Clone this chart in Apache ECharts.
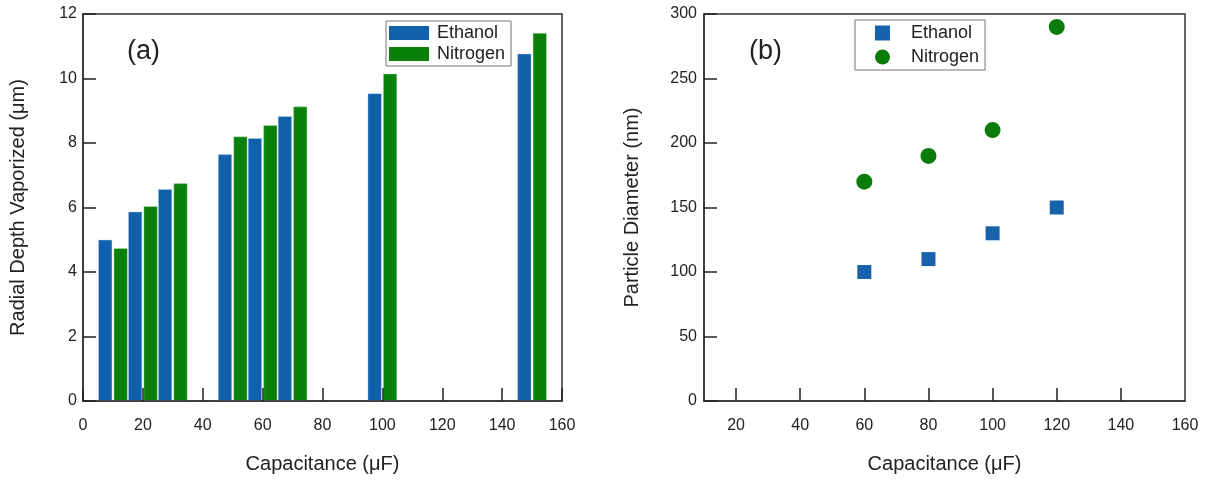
<!DOCTYPE html>
<html>
<head>
<meta charset="utf-8">
<script src="https://cdn.jsdelivr.net/npm/echarts@6/dist/echarts.min.js"></script>
<style>
html,body{margin:0;padding:0;background:#fff;}
#chart{width:1213px;height:481px;}
</style>
</head>
<body>
<div id="chart"></div>
<script>
// ---- Data ----
const capacitanceA = [10, 20, 30, 50, 60, 70, 100, 150];
const ethanolDepth = [5.0, 5.87, 6.57, 7.65, 8.15, 8.83, 9.54, 10.77];
const nitrogenDepth = [4.74, 6.04, 6.75, 8.20, 8.55, 9.13, 10.15, 11.41];

const capacitanceB = [60, 80, 100, 120];
const ethanolDiameter = [100, 110, 130, 150];
const nitrogenDiameter = [170, 190, 210, 290];

const xTickLabelsB = [20, 40, 60, 80, 100, 120, 140, 160];
const xTicksB = [20, 40, 60, 80, 100, 120, 140];

const seriesNames = ['Ethanol', 'Nitrogen'];

// ---- Styling ----
const FONT = '"Liberation Sans", Arial, sans-serif';
const TXT = '#222';
const BLUE = '#1060ab';
const GREEN = '#0a800a';
const BLUE_PT = '#1762ab';
const GREEN_PT = '#097d09';

function pairs(xs, ys) { return xs.map((x, i) => [x, ys[i]]); }

const axisLabel = { color: TXT, fontFamily: FONT, fontSize: 16 };
const nameStyle = { color: TXT, fontFamily: FONT, fontSize: 20 };
const tick = { show: true, inside: true, length: 13, lineStyle: { color: '#222', width: 1.5 } };
const line = { show: true, lineStyle: { color: '#333', width: 1.5 } };

const chart = echarts.init(document.getElementById('chart'), null, { renderer: 'canvas' });

chart.setOption({
  animation: false,
  backgroundColor: '#fff',
  textStyle: { fontFamily: FONT },
  grid: [
    { left: 83, right: 651, top: 14, bottom: 80, show: true, borderColor: '#333', borderWidth: 1.5, backgroundColor: 'transparent' },
    { left: 704, right: 28, top: 14, bottom: 80, show: true, borderColor: '#333', borderWidth: 1.5, backgroundColor: 'transparent' }
  ],
  xAxis: [
    {
      gridIndex: 0, type: 'value', min: 0, max: 160, interval: 20, z: 10,
      name: 'Capacitance (\u03bcF)', nameLocation: 'middle', nameGap: 53, nameTextStyle: nameStyle,
      axisLine: line, axisTick: tick, splitLine: { show: false },
      axisLabel: Object.assign({ margin: 17 }, axisLabel)
    },
    {
      gridIndex: 1, type: 'value', min: 10, max: 160, z: 10,
      name: 'Capacitance (\u03bcF)', nameLocation: 'middle', nameGap: 53, nameTextStyle: nameStyle,
      axisLine: line,
      axisTick: Object.assign({ customValues: xTicksB }, tick),
      splitLine: { show: false },
      axisLabel: Object.assign({ margin: 17, customValues: xTickLabelsB }, axisLabel)
    }
  ],
  yAxis: [
    {
      gridIndex: 0, type: 'value', min: 0, max: 12, interval: 2, z: 10,
      name: 'Radial Depth Vaporized (\u03bcm)', nameLocation: 'middle', nameGap: 55, nameTextStyle: nameStyle,
      axisLine: line, axisTick: tick, splitLine: { show: false },
      axisLabel: Object.assign({ margin: 6 }, axisLabel)
    },
    {
      gridIndex: 1, type: 'value', min: 0, max: 300, interval: 50, z: 10,
      name: 'Particle Diameter (nm)', nameLocation: 'middle', nameGap: 62, nameTextStyle: nameStyle,
      axisLine: line, axisTick: tick, splitLine: { show: false },
      axisLabel: Object.assign({ margin: 7 }, axisLabel)
    }
  ],
  legend: [
    {
      data: seriesNames.map(n => ({ name: n, icon: 'rect' })),
      left: 386, top: 21, orient: 'vertical',
      itemWidth: 40, itemHeight: 14, itemGap: 3,
      padding: [3, 6, 3, 3],
      borderColor: '#777', borderWidth: 1, backgroundColor: '#fff',
      itemStyle: { borderWidth: 0 },
      textStyle: { color: TXT, fontFamily: FONT, fontSize: 18, padding: [0, 0, 0, 3] },
      selectedMode: false
    },
    {
      data: [
        { name: seriesNames[0] + ' (b)', icon: 'rect' },
        { name: seriesNames[1] + ' (b)', icon: 'circle' }
      ],
      formatter: n => n.replace(' (b)', ''),
      left: 855, top: 20, orient: 'vertical',
      itemWidth: 15, itemHeight: 15, itemGap: 6,
      padding: [4, 6, 4, 20],
      borderColor: '#777', borderWidth: 1, backgroundColor: '#fff',
      itemStyle: { borderWidth: 0, opacity: 1 },
      textStyle: { color: TXT, fontFamily: FONT, fontSize: 18, padding: [0, 0, 0, 16] },
      selectedMode: false
    }
  ],
  graphic: [
    { type: 'text', left: 127, top: 38, style: { text: '(a)', fontSize: 27, fontFamily: FONT, fill: TXT } },
    { type: 'text', left: 749, top: 38, style: { text: '(b)', fontSize: 27, fontFamily: FONT, fill: TXT } }
  ],
  series: [
    {
      name: seriesNames[0], type: 'bar', xAxisIndex: 0, yAxisIndex: 0,
      data: pairs(capacitanceA, ethanolDepth),
      barWidth: 14, barGap: '10%',
      itemStyle: { color: BLUE, borderColor: 'rgba(190,215,240,0.7)', borderWidth: 0.6 }
    },
    {
      name: seriesNames[1], type: 'bar', xAxisIndex: 0, yAxisIndex: 0,
      data: pairs(capacitanceA, nitrogenDepth),
      barWidth: 14, barGap: '10%',
      itemStyle: { color: GREEN, borderColor: 'rgba(190,230,190,0.7)', borderWidth: 0.6 }
    },
    {
      name: seriesNames[0] + ' (b)', type: 'scatter', xAxisIndex: 1, yAxisIndex: 1,
      data: pairs(capacitanceB, ethanolDiameter),
      symbol: 'rect', symbolSize: 14,
      itemStyle: { color: BLUE_PT, opacity: 1 }
    },
    {
      name: seriesNames[1] + ' (b)', type: 'scatter', xAxisIndex: 1, yAxisIndex: 1,
      data: pairs(capacitanceB, nitrogenDiameter),
      symbol: 'circle', symbolSize: 16,
      itemStyle: { color: GREEN_PT, opacity: 1 }
    }
  ]
});
</script>
</body>
</html>
